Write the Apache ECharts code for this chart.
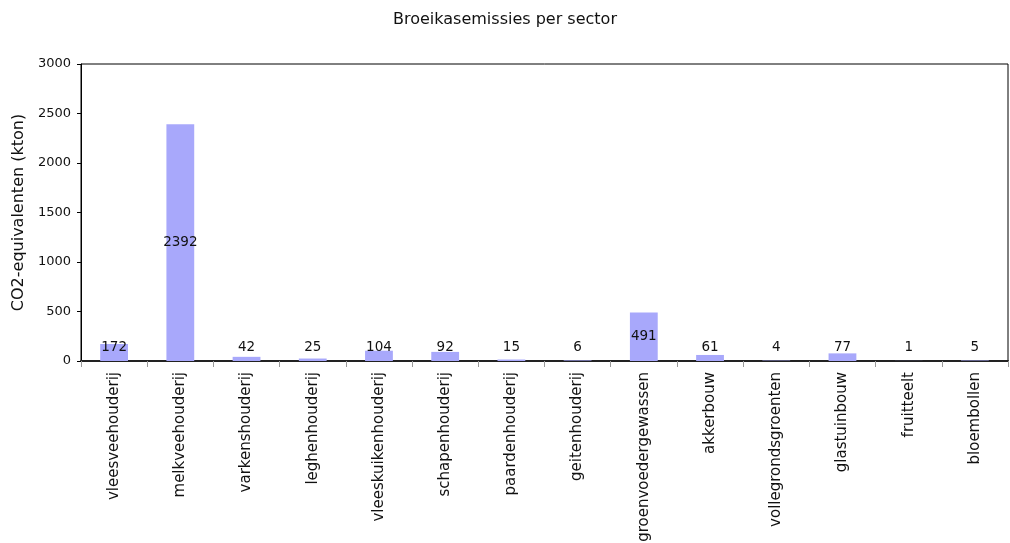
<!DOCTYPE html>
<html>
<head>
<meta charset="utf-8">
<script src="https://cdn.jsdelivr.net/npm/echarts@6/dist/echarts.min.js"></script>
<style>html,body{margin:0;padding:0;background:#fff}#c{width:1010px;height:543px}</style>
</head>
<body>
<div id="c"></div>
<script>
const categories = ["vleesveehouderij","melkveehouderij","varkenshouderij","leghenhouderij","vleeskuikenhouderij","schapenhouderij","paardenhouderij","geitenhouderij","groenvoedergewassen","akkerbouw","vollegrondsgroenten","glastuinbouw","fruitteelt","bloembollen"];
const values = [172, 2392, 42, 25, 104, 92, 15, 6, 491, 61, 4, 77, 1, 5];
const yTicks = [0, 500, 1000, 1500, 2000, 2500, 3000];

const font = "DejaVu Sans, Verdana, sans-serif";
const chart = echarts.init(document.getElementById('c'));
const seriesData = values.map(v => ({
  value: v,
  label: v < 283 ? {position: 'insideBottom', distance: 7} : {position: 'inside'}
}));
chart.setOption({
  animation: false,
  title: {text: 'Broeikasemissies per sector', left: 'center', top: 7,
    textStyle: {fontFamily: font, fontSize: 16, fontWeight: 'normal', color: '#111'}},
  grid: {left: 81, right: 2, top: 64, bottom: 182, show: true, borderColor: '#000', borderWidth: 1,
    outerBoundsMode: 'none', containLabel: false},
  xAxis: {type: 'category', data: categories,
    axisLine: {lineStyle: {color: '#222', width: 2}},
    axisTick: {show: true, length: 6, lineStyle: {color: '#999'}},
    axisLabel: {rotate: 90, margin: 11, fontFamily: font, fontSize: 15, color: '#111'}},
  yAxis: {type: 'value', min: yTicks[0], max: yTicks[yTicks.length-1], interval: 500,
    name: 'CO2-equivalenten (kton)', nameLocation: 'middle', nameGap: 52,
    nameTextStyle: {fontFamily: font, fontSize: 16, color: '#111'},
    splitLine: {show: false},
    axisLine: {show: true, lineStyle: {color: '#000', width: 1}},
    axisTick: {show: true, length: 4, lineStyle: {color: '#000'}},
    axisLabel: {fontFamily: font, fontSize: 13, color: '#111', margin: 10, formatter: v => String(v)}},
  series: [{type: 'bar', data: seriesData, barWidth: '42%',
    itemStyle: {color: '#a8a8fb'},
    label: {show: true, fontFamily: font, fontSize: 13.5, color: '#111'}}]
});
</script>
</body>
</html>
